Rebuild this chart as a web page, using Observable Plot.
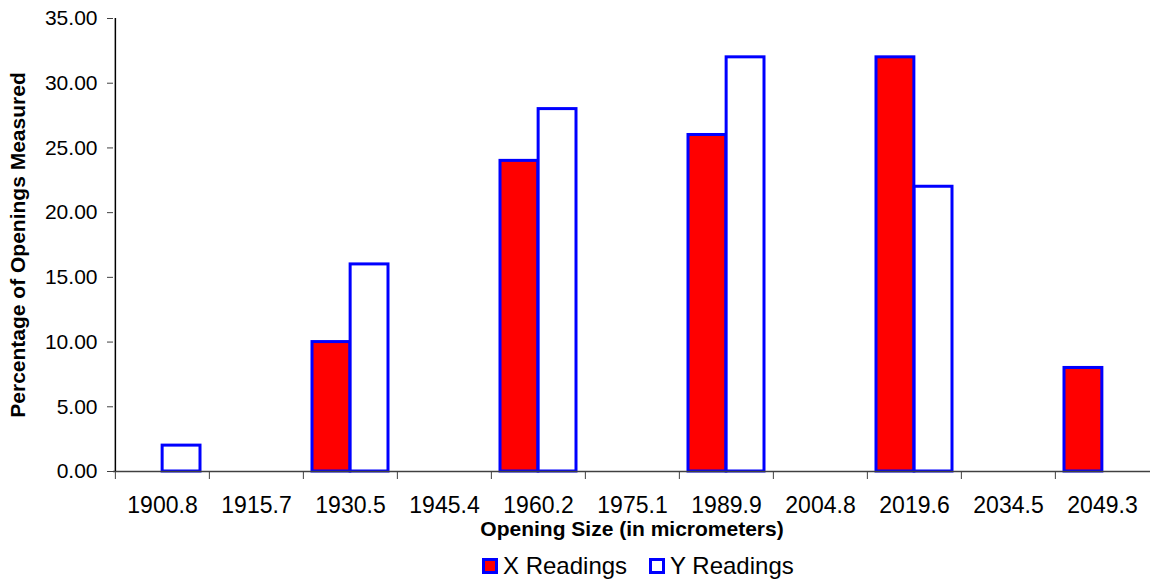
<!DOCTYPE html>
<html>
<head>
<meta charset="utf-8">
<script src="https://cdn.jsdelivr.net/npm/d3@7"></script>
<script src="https://cdn.jsdelivr.net/npm/@observablehq/plot@0.6"></script>
<style>
  html, body { margin: 0; padding: 0; background: #fff; overflow: hidden; }
  body { font-family: "Liberation Sans", Arial, sans-serif; color: #000; }
  #legend { display: flex; align-items: center; height: 30px; margin-top: 6px; padding-left: 482px; font-size: 24px; }
  #legend .sw { width: 16px; height: 16px; box-sizing: border-box; border: 3px solid #0000FF; margin-right: 5px; }
  #legend .lab { margin-right: 22px; white-space: nowrap; }
</style>
</head>
<body>
<div id="chart"></div>
<div id="legend"></div>
<script>
// ---- data ----
const categories = ["1900.8", "1915.7", "1930.5", "1945.4", "1960.2", "1975.1", "1989.9", "2004.8", "2019.6", "2034.5", "2049.3"];
const xReadings = [0, 0, 10, 0, 24, 0, 26, 0, 32, 0, 8];
const yReadings = [2, 0, 16, 0, 28, 0, 32, 0, 22, 0, 0];
const seriesNames = ["X Readings", "Y Readings"];
const seriesFills = ["#FF0000", "#FFFFFF"];
const yTicks = [0, 5, 10, 15, 20, 25, 30, 35];
const yTitle = "Percentage of Openings Measured";
const xTitle = "Opening Size (in micrometers)";

// ---- layout ----
const W = 1150, H = 545, mL = 113, mR = 0, mT = 18, mB = 74;
const bw = (W - mL - mR) / categories.length;
const pad = 9;
const font = "'Liberation Sans', Arial, sans-serif";

const rows = categories.flatMap((c, i) => [
  {cat: c, series: seriesNames[0], value: xReadings[i]},
  {cat: c, series: seriesNames[1], value: yReadings[i]}
]);

const plot = Plot.plot({
  width: W, height: H,
  marginLeft: mL, marginRight: mR, marginTop: mT, marginBottom: mB,
  style: {fontFamily: font, background: "#fff", color: "#000", overflow: "visible"},
  x: {domain: categories, paddingInner: 0, paddingOuter: 0},
  y: {domain: [0, 35]},
  marks: [
    Plot.barY(rows, {
      filter: d => d.series === seriesNames[0] && d.value > 0,
      x: "cat", y: "value", fill: seriesFills[0], stroke: "#0000FF", strokeWidth: 3,
      insetLeft: pad, insetRight: bw / 2
    }),
    Plot.barY(rows, {
      filter: d => d.series === seriesNames[1] && d.value > 0,
      x: "cat", y: "value", fill: seriesFills[1], stroke: "#0000FF", strokeWidth: 3,
      insetLeft: bw / 2, insetRight: pad
    }),
    Plot.ruleY([0], {stroke: "#404040", strokeWidth: 1.5}),
    Plot.ruleX([categories[0]], {y1: 0, y2: 35, dx: -bw / 2, stroke: "#000", strokeWidth: 1.5}),
    Plot.axisY({
      ticks: yTicks, tickFormat: d => d.toFixed(2), tickSize: 6, tickPadding: 10,
      fontSize: 21, label: null, stroke: "#404040"
    }),
    Plot.axisX({tickSize: 0, tickPadding: 25, fontSize: 23, label: null}),
    Plot.axisX({tickSize: 8, tickFormat: () => "", dx: -bw / 2, label: null, stroke: "#404040"}),
    Plot.text([yTitle], {
      frameAnchor: "left", dx: -95, rotate: -90, textAnchor: "middle", lineAnchor: "middle",
      fontWeight: "bold", fontSize: 21, fill: "#000"
    }),
    Plot.text([xTitle], {
      frameAnchor: "bottom", dy: 58, textAnchor: "middle", lineAnchor: "middle",
      fontWeight: "bold", fontSize: 21, fill: "#000"
    })
  ]
});
document.getElementById("chart").appendChild(plot);

// ---- legend ----
const legend = document.getElementById("legend");
seriesNames.forEach((name, i) => {
  const sw = document.createElement("span");
  sw.className = "sw";
  sw.style.background = seriesFills[i];
  const lab = document.createElement("span");
  lab.className = "lab";
  lab.textContent = name;
  legend.appendChild(sw);
  legend.appendChild(lab);
});
</script>
</body>
</html>
